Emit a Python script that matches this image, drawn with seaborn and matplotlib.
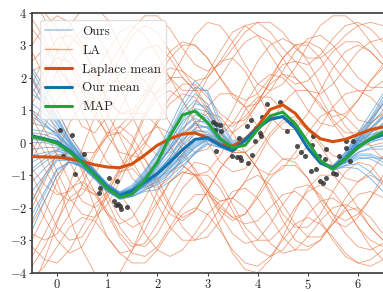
import matplotlib
matplotlib.use("Agg")
import matplotlib.pyplot as plt
from matplotlib.lines import Line2D
import numpy as np
import pandas as pd
import seaborn as sns

xs = np.linspace(-0.5, 6.5, 29)

our_mean = [0.21, 0.12, 0.02, -0.25, -0.6, -0.97, -1.37, -1.63, -1.48, -1.21, -0.95, -0.6, -0.22, 0.1,
            0.15, -0.08, -0.25, 0.08, 0.45, 0.72, 0.8, 0.45, -0.17, -0.62, -0.78, -0.5, -0.12, 0.1, 0.24]
laplace_mean = [-0.43, -0.44, -0.45, -0.5, -0.58, -0.68, -0.75, -0.77, -0.65, -0.38, -0.08, 0.12, 0.26, 0.3,
                0.15, -0.06, -0.1, 0.1, 0.5, 1.02, 1.16, 0.9, 0.42, 0.12, 0.03, 0.1, 0.25, 0.4, 0.48]
map_fit = [0.18, 0.1, -0.02, -0.28, -0.62, -1.0, -1.4, -1.68, -1.58, -1.15, -0.6, 0.2, 0.85, 0.97,
           0.62, 0.12, -0.15, -0.08, 0.4, 0.82, 0.94, 0.58, 0.02, -0.55, -0.82, -0.5, -0.15, 0.12, 0.32]

# posterior samples ("Ours")
ours_samples = [
    [2.2, 1.5, 0.8, 0.1, -0.5, -0.9, -1.3, -1.58, -1.4, -1.0, -0.5, 0.2, 0.9, 1.3, 1.0, 0.3, -0.1, 0.1, 0.45, 0.7, 0.78, 0.42, -0.2, -0.62, -0.75, -0.4, 0.1, 0.6, 1.2],
    [-2.7, -1.8, -1.0, -0.6, -0.75, -1.1, -1.5, -1.72, -1.65, -1.45, -1.25, -0.95, -0.55, -0.15, 0.1, -0.1, -0.28, 0.05, 0.42, 0.7, 0.8, 0.46, -0.15, -0.6, -0.8, -0.62, -0.45, -0.5, -0.7],
    [1.2, 0.9, 0.45, -0.05, -0.45, -0.85, -1.28, -1.55, -1.42, -1.05, -0.6, -0.1, 0.45, 0.75, 0.55, 0.05, -0.2, 0.1, 0.48, 0.75, 0.82, 0.45, -0.18, -0.64, -0.8, -0.45, 0.05, 0.45, 0.85],
    [-1.2, -0.8, -0.4, -0.5, -0.75, -1.1, -1.48, -1.7, -1.58, -1.3, -1.1, -0.8, -0.45, -0.1, 0.12, -0.05, -0.24, 0.08, 0.44, 0.7, 0.78, 0.43, -0.2, -0.65, -0.82, -0.6, -0.3, -0.15, -0.1],
    [0.6, 0.5, 0.3, -0.1, -0.5, -0.9, -1.3, -1.56, -1.45, -1.15, -0.8, -0.35, 0.1, 0.4, 0.3, -0.02, -0.22, 0.1, 0.46, 0.72, 0.8, 0.45, -0.16, -0.6, -0.76, -0.42, 0.05, 0.35, 0.55],
    [-0.4, -0.3, -0.25, -0.42, -0.7, -1.05, -1.42, -1.68, -1.55, -1.25, -1.0, -0.7, -0.35, 0.0, 0.15, -0.06, -0.26, 0.06, 0.43, 0.71, 0.79, 0.44, -0.18, -0.63, -0.8, -0.55, -0.2, 0.0, 0.15],
    [1.7, 1.1, 0.55, 0.0, -0.45, -0.86, -1.27, -1.52, -1.35, -0.9, -0.3, 0.5, 1.3, 1.9, 1.5, 0.55, 0.0, 0.15, 0.47, 0.73, 0.8, 0.44, -0.18, -0.6, -0.72, -0.3, 0.3, 0.9, 1.5],
    [-1.8, -1.1, -0.55, -0.55, -0.72, -1.08, -1.46, -1.72, -1.66, -1.5, -1.45, -1.2, -0.8, -0.3, 0.05, -0.12, -0.3, 0.04, 0.42, 0.7, 0.79, 0.45, -0.16, -0.62, -0.82, -0.7, -0.65, -0.9, -1.3],
    [0.1, 0.05, -0.05, -0.3, -0.62, -0.98, -1.37, -1.62, -1.46, -1.1, -0.7, -0.2, 0.3, 0.6, 0.45, 0.0, -0.2, 0.1, 0.46, 0.73, 0.81, 0.45, -0.17, -0.62, -0.77, -0.48, -0.05, 0.2, 0.4],
    [0.9, 0.6, 0.2, -0.2, -0.55, -0.92, -1.32, -1.6, -1.55, -1.3, -1.0, -0.55, -0.05, 0.35, 0.35, 0.0, -0.22, 0.09, 0.45, 0.72, 0.8, 0.46, -0.16, -0.6, -0.75, -0.4, 0.1, 0.55, 1.0],
    [2.3, 1.7, 1.0, 0.25, -0.38, -0.88, -1.32, -1.56, -1.4, -0.95, -0.4, 0.3, 1.0, 1.5, 1.2, 0.4, -0.05, 0.12, 0.46, 0.72, 0.8, 0.45, -0.17, -0.61, -0.78, -0.5, -0.15, 0.05, 0.1],
    [-0.9, -0.6, -0.35, -0.45, -0.7, -1.05, -1.43, -1.68, -1.6, -1.38, -1.2, -0.9, -0.5, -0.15, 0.08, -0.1, -0.28, 0.05, 0.43, 0.7, 0.79, 0.44, -0.19, -0.64, -0.8, -0.5, -0.05, 0.3, 0.6],
    [0.3, 0.25, 0.1, -0.2, -0.57, -0.96, -1.37, -1.62, -1.48, -1.2, -0.9, -0.45, 0.05, 0.45, 0.5, 0.05, -0.2, 0.1, 0.46, 0.72, 0.8, 0.45, -0.17, -0.62, -0.8, -0.6, -0.35, -0.35, -0.5],
    [1.5, 1.2, 0.7, 0.05, -0.48, -0.9, -1.32, -1.58, -1.45, -1.15, -0.85, -0.5, -0.1, 0.25, 0.25, -0.02, -0.22, 0.1, 0.47, 0.73, 0.8, 0.44, -0.18, -0.61, -0.75, -0.35, 0.2, 0.7, 1.3],
    [-2.2, -1.5, -0.8, -0.6, -0.72, -1.06, -1.45, -1.7, -1.6, -1.3, -1.0, -0.65, -0.25, 0.1, 0.2, -0.03, -0.24, 0.08, 0.45, 0.71, 0.79, 0.45, -0.17, -0.63, -0.83, -0.75, -0.8, -1.1, -1.5],
    [0.0, 0.0, -0.1, -0.32, -0.63, -0.99, -1.38, -1.62, -1.5, -1.18, -0.75, -0.15, 0.55, 1.05, 0.95, 0.3, -0.08, 0.12, 0.46, 0.72, 0.8, 0.45, -0.17, -0.62, -0.78, -0.45, 0.0, 0.25, 0.35],
    [1.0, 0.7, 0.35, -0.15, -0.5, -0.9, -1.3, -1.55, -1.5, -1.35, -1.15, -0.8, -0.35, 0.05, 0.2, 0.0, -0.23, 0.09, 0.46, 0.72, 0.8, 0.45, -0.17, -0.62, -0.78, -0.5, -0.1, 0.15, 0.3],
    [-0.6, -0.4, -0.2, -0.3, -0.65, -1.02, -1.42, -1.66, -1.45, -1.05, -0.55, 0.05, 0.65, 1.0, 0.8, 0.2, -0.12, 0.1, 0.45, 0.71, 0.8, 0.45, -0.18, -0.62, -0.78, -0.45, 0.0, 0.4, 0.8],
    [1.9, 1.3, 0.6, 0.0, -0.45, -0.85, -1.25, -1.52, -1.3, -0.85, -0.35, 0.35, 1.1, 1.7, 1.6, 0.7, 0.05, 0.16, 0.5, 0.75, 0.82, 0.47, -0.14, -0.6, -0.72, -0.3, 0.25, 0.75, 1.4],
    [-1.5, -1.0, -0.5, -0.5, -0.76, -1.12, -1.5, -1.75, -1.65, -1.45, -1.3, -1.05, -0.7, -0.35, -0.05, -0.15, -0.3, 0.04, 0.42, 0.69, 0.78, 0.43, -0.2, -0.66, -0.85, -0.7, -0.5, -0.45, -0.5],
    [0.4, 0.35, 0.2, -0.12, -0.52, -0.9, -1.3, -1.56, -1.42, -1.08, -0.62, 0.0, 0.7, 1.2, 1.1, 0.35, -0.08, 0.12, 0.47, 0.73, 0.81, 0.46, -0.16, -0.61, -0.76, -0.45, 0.0, 0.3, 0.5],
    [-0.2, -0.15, -0.15, -0.35, -0.66, -1.02, -1.4, -1.65, -1.52, -1.28, -1.1, -0.88, -0.6, -0.3, -0.02, -0.14, -0.28, 0.06, 0.44, 0.71, 0.79, 0.44, -0.18, -0.63, -0.8, -0.55, -0.2, 0.1, 0.35],
    [2.0, 1.4, 0.75, 0.1, -0.42, -0.86, -1.28, -1.55, -1.4, -1.05, -0.65, -0.2, 0.25, 0.55, 0.45, 0.05, -0.2, 0.1, 0.46, 0.72, 0.8, 0.45, -0.17, -0.62, -0.76, -0.4, 0.1, 0.45, 0.75],
    [-2.4, -1.6, -0.85, -0.6, -0.74, -1.1, -1.48, -1.72, -1.6, -1.32, -0.95, -0.45, 0.15, 0.65, 0.65, 0.15, -0.15, 0.1, 0.45, 0.72, 0.8, 0.45, -0.17, -0.62, -0.8, -0.62, -0.4, -0.4, -0.6],
    [0.8, 0.55, 0.25, -0.15, -0.52, -0.92, -1.32, -1.6, -1.52, -1.28, -1.05, -0.75, -0.4, -0.05, 0.12, -0.05, -0.24, 0.08, 0.45, 0.72, 0.8, 0.45, -0.17, -0.62, -0.77, -0.4, 0.15, 0.65, 1.2],
    [-0.8, -0.5, -0.25, -0.35, -0.62, -0.98, -1.38, -1.63, -1.46, -1.12, -0.72, -0.2, 0.4, 0.85, 0.75, 0.2, -0.12, 0.1, 0.46, 0.72, 0.8, 0.45, -0.17, -0.62, -0.8, -0.58, -0.3, -0.2, -0.2],
]

# Laplace samples ("LA")
la_samples = [
    [3.5, 3.0, 2.2, 1.2, 0.5, 0.3, 0.8, 1.6, 2.4, 2.9, 3.0, 2.6, 2.0, 1.6, 1.6, 2.0, 2.6, 3.1, 3.3, 3.1, 2.6, 2.0, 1.6, 1.5, 1.8, 2.3, 2.8, 3.1, 3.2],
    [-3.0, -2.2, -1.2, -0.5, -0.3, -0.8, -1.6, -2.3, -2.6, -2.4, -1.8, -1.2, -0.9, -1.0, -1.5, -2.2, -2.8, -3.1, -3.0, -2.5, -1.9, -1.4, -1.3, -1.6, -2.2, -2.8, -3.2, -3.3, -3.1],
    [0.5, 1.3, 2.2, 3.0, 3.5, 3.4, 2.8, 1.8, 0.8, 0.0, -0.4, -0.3, 0.3, 1.2, 2.0, 2.5, 2.6, 2.2, 1.5, 0.8, 0.4, 0.4, 0.9, 1.6, 2.3, 2.8, 3.0, 2.8, 2.4],
    [-1.5, -2.3, -3.0, -3.4, -3.2, -2.5, -1.6, -0.8, -0.4, -0.5, -1.1, -1.9, -2.6, -3.0, -2.9, -2.4, -1.7, -1.2, -1.0, -1.3, -1.9, -2.5, -2.9, -2.9, -2.5, -2.0, -1.6, -1.5, -1.7],
    [2.0, 1.2, 0.3, -0.6, -1.3, -1.6, -1.4, -0.8, 0.0, 0.9, 1.6, 2.0, 2.0, 1.6, 1.0, 0.5, 0.3, 0.6, 1.2, 1.9, 2.4, 2.5, 2.1, 1.4, 0.7, 0.3, 0.3, 0.7, 1.2],
    [-0.5, 0.2, 0.4, 0.0, -0.9, -2.0, -2.9, -3.4, -3.3, -2.7, -1.9, -1.2, -0.9, -1.0, -1.5, -2.1, -2.4, -2.2, -1.6, -0.9, -0.5, -0.6, -1.1, -1.8, -2.4, -2.6, -2.3, -1.7, -1.0],
    [4.5, 3.8, 2.8, 1.8, 1.2, 1.2, 1.8, 2.6, 3.3, 3.6, 3.4, 2.8, 2.2, 1.9, 2.0, 2.5, 3.1, 3.6, 3.7, 3.4, 2.9, 2.5, 2.4, 2.7, 3.2, 3.6, 3.7, 3.5, 3.1],
    [-3.8, -3.2, -2.4, -1.7, -1.4, -1.6, -2.2, -2.9, -3.4, -3.5, -3.2, -2.6, -2.0, -1.6, -1.6, -1.9, -2.3, -2.5, -2.4, -2.0, -1.6, -1.5, -1.8, -2.4, -3.0, -3.5, -3.7, -3.6, -3.3],
    [1.0, 0.4, -0.4, -1.2, -1.8, -2.0, -1.7, -1.0, -0.1, 0.8, 1.4, 1.6, 1.3, 0.7, 0.0, -0.6, -0.9, -0.8, -0.3, 0.3, 0.7, 0.8, 0.5, 0.0, -0.4, -0.5, -0.2, 0.3, 0.8],
    [-2.0, -1.2, -0.3, 0.6, 1.2, 1.3, 0.9, 0.2, -0.6, -1.2, -1.4, -1.1, -0.4, 0.4, 1.1, 1.5, 1.5, 1.1, 0.5, -0.1, -0.5, -0.5, -0.1, 0.5, 1.1, 1.5, 1.6, 1.4, 1.0],
    [3.0, 3.6, 3.9, 3.7, 3.0, 2.1, 1.3, 0.9, 1.0, 1.5, 2.2, 2.8, 3.1, 3.0, 2.6, 2.0, 1.5, 1.3, 1.5, 2.0, 2.6, 3.0, 3.1, 2.9, 2.4, 1.9, 1.6, 1.6, 1.9],
    [-3.2, -3.6, -3.7, -3.3, -2.6, -1.9, -1.5, -1.6, -2.1, -2.8, -3.3, -3.5, -3.3, -2.8, -2.2, -1.8, -1.7, -2.0, -2.6, -3.1, -3.4, -3.3, -2.9, -2.4, -2.0, -1.9, -2.1, -2.6, -3.0],
    [0.0, -0.8, -1.5, -1.8, -1.6, -1.0, -0.2, 0.5, 0.9, 0.9, 0.5, -0.1, -0.7, -1.0, -0.9, -0.4, 0.3, 1.0, 1.4, 1.4, 1.0, 0.4, -0.2, -0.6, -0.7, -0.4, 0.1, 0.6, 0.9],
    [2.5, 2.9, 2.9, 2.4, 1.6, 0.8, 0.3, 0.3, 0.7, 1.4, 2.0, 2.3, 2.2, 1.7, 1.1, 0.6, 0.5, 0.8, 1.3, 1.8, 2.1, 2.0, 1.6, 1.1, 0.8, 0.9, 1.3, 1.9, 2.4],
    [-1.0, -1.8, -2.6, -3.0, -2.9, -2.3, -1.5, -0.9, -0.8, -1.2, -1.9, -2.6, -3.0, -3.0, -2.6, -2.0, -1.5, -1.4, -1.7, -2.3, -2.9, -3.3, -3.3, -3.0, -2.5, -2.1, -2.0, -2.3, -2.8],
    [1.5, 2.2, 2.6, 2.5, 1.9, 1.0, 0.2, -0.3, -0.4, 0.0, 0.6, 1.2, 1.5, 1.4, 0.9, 0.3, -0.2, -0.3, 0.0, 0.6, 1.2, 1.6, 1.6, 1.2, 0.6, 0.1, -0.1, 0.1, 0.6],
    [-2.5, -1.8, -1.0, -0.5, -0.5, -1.0, -1.8, -2.6, -3.1, -3.2, -2.8, -2.1, -1.4, -1.0, -1.0, -1.4, -2.1, -2.8, -3.3, -3.5, -3.3, -2.8, -2.2, -1.8, -1.7, -2.0, -2.6, -3.2, -3.6],
    [4.2, 4.0, 3.5, 2.8, 2.2, 2.0, 2.3, 2.9, 3.5, 3.9, 3.9, 3.5, 2.9, 2.4, 2.2, 2.4, 2.9, 3.4, 3.7, 3.7, 3.4, 2.9, 2.6, 2.6, 2.9, 3.3, 3.6, 3.7, 3.6],
    [-0.3, 0.5, 1.3, 1.8, 1.8, 1.3, 0.5, -0.4, -1.1, -1.4, -1.2, -0.7, 0.0, 0.6, 0.9, 0.8, 0.3, -0.3, -0.8, -1.0, -0.8, -0.3, 0.3, 0.8, 1.0, 0.8, 0.4, -0.1, -0.5],
    [-4.2, -3.8, -3.2, -2.6, -2.3, -2.4, -2.9, -3.4, -3.7, -3.7, -3.3, -2.7, -2.2, -2.0, -2.2, -2.7, -3.3, -3.7, -3.8, -3.5, -3.0, -2.5, -2.3, -2.5, -2.9, -3.4, -3.7, -3.8, -3.6],
    [2.8, 2.0, 1.0, 0.2, -0.3, -0.3, 0.2, 1.0, 1.8, 2.3, 2.4, 2.0, 1.3, 0.6, 0.2, 0.2, 0.6, 1.2, 1.8, 2.1, 2.0, 1.6, 1.0, 0.6, 0.5, 0.8, 1.3, 1.9, 2.3],
    [-1.8, -1.0, -0.4, -0.3, -0.8, -1.5, -2.2, -2.5, -2.3, -1.7, -1.0, -0.5, -0.4, -0.8, -1.4, -2.0, -2.3, -2.2, -1.7, -1.1, -0.7, -0.7, -1.1, -1.7, -2.2, -2.4, -2.2, -1.7, -1.2],
    [3.8, 3.2, 2.4, 1.8, 1.7, 2.1, 2.8, 3.4, 3.6, 3.3, 2.7, 2.0, 1.6, 1.6, 2.1, 2.8, 3.4, 3.6, 3.3, 2.7, 2.1, 1.8, 1.9, 2.3, 2.8, 3.1, 3.1, 2.8, 2.4],
    [0.8, 0.0, -0.9, -1.7, -2.2, -2.3, -1.9, -1.2, -0.4, 0.2, 0.5, 0.3, -0.2, -0.9, -1.5, -1.8, -1.7, -1.2, -0.5, 0.2, 0.6, 0.7, 0.4, -0.1, -0.7, -1.1, -1.2, -0.9, -0.4],
    [-3.5, -2.8, -2.0, -1.4, -1.2, -1.5, -2.1, -2.8, -3.2, -3.1, -2.5, -1.7, -1.0, -0.6, -0.7, -1.2, -1.9, -2.6, -3.0, -3.0, -2.6, -2.0, -1.5, -1.3, -1.5, -2.0, -2.6, -3.0, -3.2],
    [1.8, 2.6, 3.2, 3.3, 2.9, 2.2, 1.4, 0.9, 0.9, 1.3, 2.0, 2.6, 3.0, 3.0, 2.6, 2.0, 1.4, 1.1, 1.2, 1.6, 2.2, 2.8, 3.2, 3.3, 3.0, 2.5, 2.0, 1.7, 1.7],
    [-4.5, -3.6, -2.5, -1.3, -0.2, 0.8, 1.6, 2.1, 2.2, 1.9, 1.3, 0.6, 0.0, -0.3, -0.2, 0.3, 1.0, 1.8, 2.5, 3.0, 3.2, 3.0, 2.5, 1.8, 1.1, 0.5, 0.1, -0.1, 0.0],
    [0.3, -0.3, -1.2, -2.3, -3.3, -4.0, -4.3, -4.0, -3.3, -2.4, -1.5, -0.9, -0.7, -1.0, -1.7, -2.6, -3.4, -3.9, -4.0, -3.6, -2.9, -2.1, -1.4, -1.0, -1.0, -1.4, -2.0, -2.6, -3.0],
    [2.2, 2.4, 2.3, 1.8, 1.0, 0.1, -0.6, -0.9, -0.7, -0.1, 0.7, 1.4, 1.8, 1.8, 1.4, 0.9, 0.6, 0.7, 1.2, 1.9, 2.6, 3.0, 3.0, 2.6, 1.9, 1.2, 0.7, 0.6, 0.9],
    [-2.8, -3.0, -2.8, -2.2, -1.3, -0.4, 0.2, 0.3, -0.1, -0.8, -1.6, -2.2, -2.4, -2.1, -1.5, -0.8, -0.3, -0.3, -0.8, -1.5, -2.2, -2.6, -2.6, -2.2, -1.5, -0.9, -0.6, -0.7, -1.2],
    [1.2, 1.9, 2.8, 3.6, 4.1, 4.2, 3.8, 3.0, 2.2, 1.6, 1.5, 1.9, 2.6, 3.3, 3.7, 3.6, 3.1, 2.4, 1.8, 1.6, 1.8, 2.3, 3.0, 3.6, 3.9, 3.9, 3.6, 3.1, 2.6],
    [-0.8, -1.3, -1.6, -1.5, -1.0, -0.3, 0.3, 0.5, 0.2, -0.5, -1.3, -2.0, -2.3, -2.1, -1.5, -0.8, -0.3, -0.3, -0.8, -1.6, -2.4, -3.0, -3.2, -3.0, -2.4, -1.7, -1.2, -1.0, -1.2],
]

# observed data points
pts_x = [0.06, 0.29, 0.11, 0.54, 0.36, 0.84, 0.86, 1.03, 1.19, 1.14, 1.17, 1.21, 1.25, 1.27, 1.39,
         3.11, 3.17, 3.25, 3.14, 3.27, 3.16, 3.39, 3.49, 3.59, 3.64, 3.63, 3.79, 3.86, 3.97, 4.04,
         3.94, 3.89, 3.81, 3.67, 4.09, 4.18, 4.44, 4.06, 4.59, 4.67, 4.79, 4.86, 4.94, 5.07, 5.09,
         5.11, 5.17, 5.24, 5.31, 5.37, 5.37, 5.23, 5.34, 5.5, 5.56, 5.63, 5.77, 5.77, 5.91, 5.84]
pts_y = [0.38, 0.22, -0.42, -0.34, -0.97, -1.55, -1.4, -1.1, -1.18, -1.79, -1.92, -1.89, -1.96, -2.03, -1.98,
         0.63, 0.56, 0.53, 0.4, 0.35, -0.25, -0.14, -0.4, -0.45, -0.44, 0.14, 0.5, 0.7, 0.45, 0.3,
         0.04, -0.38, -0.62, -0.52, 0.8, 1.19, 1.24, 0.19, 0.35, 0.6, -0.1, -0.3, -0.42, -0.88, -0.06,
         0.21, -0.82, -1.18, -1.23, -1.08, -0.2, -0.42, -0.5, -0.93, -0.95, -0.4, -0.16, 0.05, 0.04, -0.57]

c_ours, c_la = '#4a96d2', '#e8703a'
c_lmean, c_omean, c_map = '#d4500f', '#1272b0', '#24a33a'


def long_form(samples):
    rows = []
    for k, s in enumerate(samples):
        rows.append(pd.DataFrame({'x': xs, 'y': s, 'sample': k}))
    return pd.concat(rows, ignore_index=True)


sns.set_theme(style='ticks')
plt.rcParams.update({
    'font.family': 'serif',
    'font.serif': ['cmr10', 'DejaVu Serif'],
    'mathtext.fontset': 'cm',
    'axes.formatter.use_mathtext': True,
    'font.size': 9.5,
})

fig = plt.figure(figsize=(3.83, 2.92), dpi=100)
ax = fig.add_axes([0.0836, 0.066, 0.9164, 0.891])

sns.lineplot(data=long_form(la_samples), x='x', y='y', units='sample', estimator=None,
             color=c_la, lw=0.6, alpha=0.65, ax=ax, zorder=1)
sns.lineplot(data=long_form(ours_samples), x='x', y='y', units='sample', estimator=None,
             color=c_ours, lw=0.75, alpha=0.6, ax=ax, zorder=2)
sns.scatterplot(x=pts_x, y=pts_y, color='#303030', s=13, alpha=0.85, linewidth=0, ax=ax, zorder=3)
sns.lineplot(x=xs, y=laplace_mean, color=c_lmean, lw=2.2, ax=ax, zorder=4)
sns.lineplot(x=xs, y=our_mean, color=c_omean, lw=2.2, ax=ax, zorder=5)
sns.lineplot(x=xs, y=map_fit, color=c_map, lw=2.2, ax=ax, zorder=6)

ax.set_xlim(-0.5, 6.5)
ax.set_ylim(-4, 4)
ax.set_xticks(range(0, 7))
ax.set_yticks(range(-4, 5))
ax.set_xlabel('')
ax.set_ylabel('')
ax.spines['right'].set_visible(False)
for side in ['left', 'bottom', 'top']:
    ax.spines[side].set_color('0.25')
ax.tick_params(length=2.5, width=0.8, color='0.25', labelsize=9, pad=1)

handles = [
    Line2D([], [], color=c_ours, lw=1.5, alpha=0.4),
    Line2D([], [], color=c_la, lw=1.0, alpha=0.6),
    Line2D([], [], color=c_lmean, lw=2.2),
    Line2D([], [], color=c_omean, lw=2.2),
    Line2D([], [], color=c_map, lw=2.2),
]
labels = ['Ours', 'LA', 'Laplace mean', 'Our mean', 'MAP']
leg = ax.legend(handles, labels, loc='upper left', fontsize=9.5, framealpha=0.8,
                fancybox=True, edgecolor='0.85', borderaxespad=0.6)
leg.set_zorder(10)

fig.savefig('out.png', dpi=100)
